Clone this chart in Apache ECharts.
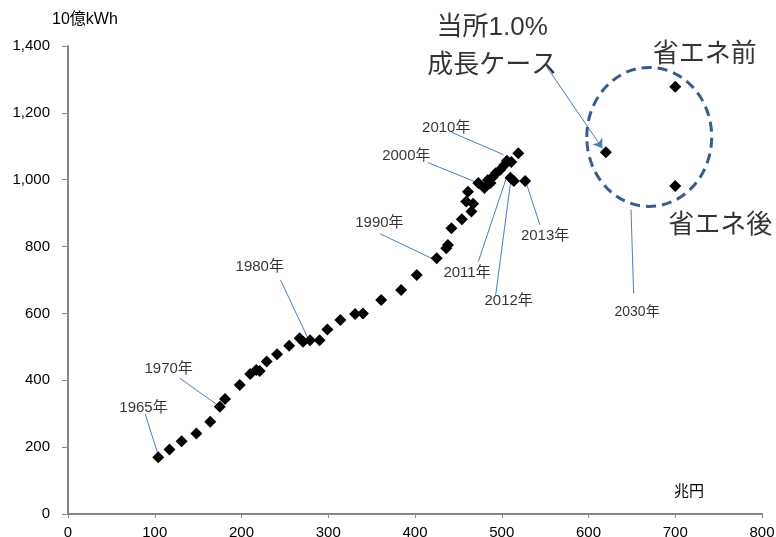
<!DOCTYPE html>
<html>
<head>
<meta charset="utf-8">
<script src="https://cdn.jsdelivr.net/npm/echarts@6/dist/echarts.min.js"></script>
<style>
html,body{margin:0;padding:0;background:#fff}
#main{width:776px;height:537px}
</style>
</head>
<body>
<div id="main"></div>
<script>
// real GDP (兆円) vs electricity demand (10億kWh), 1965 - 2013
let gdp = [104, 117, 131, 148, 164, 175, 181, 198, 210, 217, 221, 229, 241, 255, 267, 271,
    279, 290, 299, 314, 331, 340, 361, 384, 402, 425, 436, 438, 442, 454, 459, 461, 465, 467,
    473, 480, 484, 487, 490, 493, 498, 503, 506, 511, 519, 510, 514, 527]
let power = [170, 193, 218, 241, 276, 321, 344, 386, 419, 431, 428, 456, 478, 503, 526, 515,
    520, 520, 552, 580, 598, 600, 640, 670, 715, 765, 795, 805, 855, 882, 935, 964, 905, 928,
    990, 975, 999, 990, 1009, 1019, 1029, 1044, 1057, 1053, 1079, 1006, 996, 996]

// 2030 cases
let caseNames = ["当所1.0%成長ケース", "省エネ前", "省エネ後"]
let gdp2030 = [620, 700, 700]
let power2030 = [1082, 1278, 981]

let xTicks = [0, 100, 200, 300, 400, 500, 600, 700, 800]
let yTicks = [0, 200, 400, 600, 800, 1000, 1200, 1400]

// year labels: text, where the text sits, where the leader line starts and ends (data units)
let noteText = ["1965年", "1970年", "1980年", "1990年", "2000年", "2010年", "2011年", "2012年", "2013年", "2030年"]
let noteAt = [[87, 318], [116, 433], [221, 739], [359, 871], [390, 1071], [436, 1154], [460, 720], [508, 637], [550, 832], [656, 604]]
let lineFrom = [[89, 299], [129, 406], [245, 700], [360, 838], [415, 1051], [442, 1142], [473, 755], [493, 655], [544, 865], [652, 660]]
let lineTo = [[104, 176], [175, 321], [277, 523], [423, 760], [474, 989], [502, 1075], [505, 1003], [510, 989], [529, 984], [649, 911]]

let bigText = ["当所1.0%\n成長ケース", "省エネ前", "省エネ後"]
let bigAt = [[489, 1397], [734, 1373], [752, 861]]
let arrowLine = [[552, 1337], [616, 1094]]

// dashed ring around the 2030 points: centre x, centre y, half width, half height
let ring = [670, 1128, 72, 208]

const FONT = "'Liberation Sans', 'Noto Sans CJK JP', sans-serif"

let chart = echarts.init(document.getElementById("main"))

let hist = gdp.map((g, i) => [g, power[i]])
let future = gdp2030.map((g, i) => ({ name: caseNames[i], value: [g, power2030[i]] }))

let notes = noteText.map((t, i) => ({
    value: noteAt[i],
    name: t,
    label: { fontSize: i == 9 ? 14 : 15 }
}))
let bigNotes = bigText.map((t, i) => ({ value: bigAt[i], name: t }))
let leaders = lineFrom.map((p, i) => ({ coords: [p, lineTo[i]] }))

function textLayer(items, label) {
    return {
        type: "scatter",
        symbol: "circle",
        symbolSize: 1,
        clip: false,
        silent: true,
        itemStyle: { color: "rgba(0,0,0,0)" },
        label: Object.assign({
            show: true,
            position: "inside",
            formatter: "{b}",
            color: "#000",
            fontFamily: FONT
        }, label),
        data: items,
        z: 4
    }
}

chart.setOption({
    animation: false,
    backgroundColor: "#fff",
    textStyle: { fontFamily: FONT },
    grid: { left: 68, right: 14, top: 46, bottom: 23, outerBoundsMode: "none", containLabel: false },
    xAxis: {
        type: "value",
        min: xTicks[0],
        max: xTicks[xTicks.length - 1],
        interval: 100,
        name: "兆円",
        nameLocation: "end",
        nameGap: -88,
        nameTextStyle: { color: "#000", fontSize: 15, verticalAlign: "bottom", padding: [0, 0, 15, 0] },
        axisLine: { lineStyle: { color: "#868686", width: 2 } },
        axisTick: { show: true, length: 4, lineStyle: { color: "#868686" } },
        axisLabel: { color: "#000", fontSize: 15, margin: 11 },
        splitLine: { show: false }
    },
    yAxis: {
        type: "value",
        min: yTicks[0],
        max: yTicks[yTicks.length - 1],
        interval: 200,
        name: "10億kWh",
        nameLocation: "end",
        nameGap: 18,
        nameTextStyle: { color: "#000", fontSize: 16, align: "left", padding: [0, 0, 0, -16] },
        axisLine: { show: true, lineStyle: { color: "#868686", width: 2 } },
        axisTick: { show: true, length: 6, lineStyle: { color: "#868686" } },
        axisLabel: {
            color: "#000",
            fontSize: 15,
            margin: 18,
            formatter: v => v.toLocaleString("en-US")
        },
        splitLine: { show: false }
    },
    series: [
        {
            type: "lines",
            coordinateSystem: "cartesian2d",
            polyline: false,
            symbol: "none",
            lineStyle: { color: "#4A7EBB", width: 1, opacity: 1 },
            data: leaders,
            z: 1
        },
        {
            type: "lines",
            coordinateSystem: "cartesian2d",
            symbol: ["none", "arrow"],
            symbolSize: 9,
            lineStyle: { color: "#4A7EBB", width: 1, opacity: 1 },
            data: [{ coords: arrowLine }],
            z: 1
        },
        {
            type: "custom",
            data: [ring],
            renderItem: function (params, api) {
                let c = api.coord([api.value(0), api.value(1)])
                let s = api.size([api.value(2), api.value(3)])
                return {
                    type: "ellipse",
                    shape: { cx: c[0], cy: c[1], rx: s[0], ry: s[1] },
                    style: { fill: "none", stroke: "#385D8A", lineWidth: 3, lineDash: [10, 6] }
                }
            },
            z: 2
        },
        {
            name: "実績",
            type: "scatter",
            symbol: "diamond",
            symbolSize: 12,
            itemStyle: { color: "#000", opacity: 1 },
            data: hist,
            z: 3
        },
        {
            name: "2030年",
            type: "scatter",
            symbol: "diamond",
            symbolSize: 12,
            itemStyle: { color: "#000", opacity: 1 },
            data: future,
            z: 3
        },
        textLayer(notes, {}),
        textLayer(bigNotes, { fontSize: 26, lineHeight: 38 })
    ]
})
</script>
</body>
</html>
